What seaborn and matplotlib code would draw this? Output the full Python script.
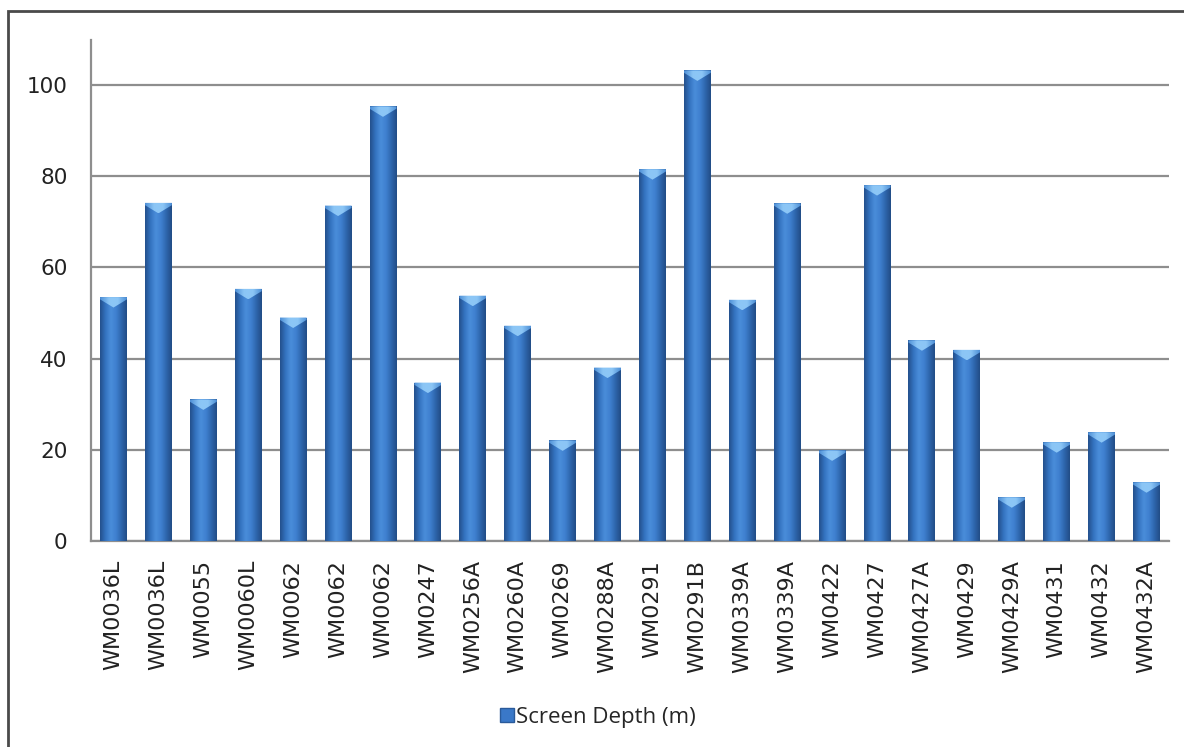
import numpy as np
import pandas as pd
import seaborn as sns
import matplotlib.pyplot as plt
from matplotlib.patches import Polygon, Rectangle
from matplotlib.colors import LinearSegmentedColormap

# Well identifiers (in plotting order) and screen depth in metres
wells = ["WM0036L", "WM0036L", "WM0055", "WM0060L", "WM0062", "WM0062",
         "WM0062", "WM0247", "WM0256A", "WM0260A", "WM0269", "WM0288A",
         "WM0291", "WM0291B", "WM0339A", "WM0339A", "WM0422", "WM0427",
         "WM0427A", "WM0429", "WM0429A", "WM0431", "WM0432", "WM0432A"]
depth = [53.5, 74.2, 31.0, 55.3, 49.0, 73.6,
         95.4, 34.7, 53.8, 47.2, 22.0, 38.0,
         81.6, 103.3, 52.9, 74.1, 19.8, 78.1,
         44.0, 41.9, 9.5, 21.6, 23.8, 12.8]
y_ticks = [0, 20, 40, 60, 80, 100]
series_name = "Screen Depth (m)"

df = pd.DataFrame({"slot": np.arange(len(wells)), "depth": depth})

sns.set_theme(style="white")
plt.rcParams["font.family"] = ["DejaVu Sans"]

fig = plt.figure(figsize=(11.84, 7.47), dpi=100)
ax = fig.add_axes([0.0769, 0.2764, 0.9104, 0.6701])

sns.barplot(data=df, x="slot", y="depth", color="#3A78C8", width=0.6,
            saturation=1, ax=ax, zorder=3, edgecolor="none")

# Cylinder-like shading across each bar plus a lighter cap at the top
shade = LinearSegmentedColormap.from_list(
    "barshade", ["#23508C", "#3473C0", "#4A8DDA", "#3F80CF", "#2E66AC", "#224C86"])
cap_shade = LinearSegmentedColormap.from_list(
    "capshade", ["#4E8FD6", "#8CC6F6", "#8CC6F6", "#4E8FD6"])
grad = np.linspace(0, 1, 64).reshape(1, -1)
for p in list(ax.patches):
    x0, w, h = p.get_x(), p.get_width(), p.get_height()
    im = ax.imshow(grad, cmap=shade, aspect="auto", extent=[x0, x0 + w, 0, h],
                   zorder=4, interpolation="bicubic")
    im.set_clip_path(p)
    xc = x0 + w / 2
    cap = Polygon([(x0, h), (x0 + w, h), (x0 + w, h - 0.5), (xc, h - 2.3), (x0, h - 0.5)],
                  closed=True, facecolor="none", edgecolor="none", zorder=5)
    ax.add_patch(cap)
    cim = ax.imshow(grad, cmap=cap_shade, aspect="auto",
                    extent=[x0, x0 + w, h - 2.3, h], zorder=5, interpolation="bicubic")
    cim.set_clip_path(cap)

ax.set_xlim(-0.5, len(wells) - 0.5)
ax.set_ylim(0, 110)
ax.set_yticks(y_ticks)
ax.set_xticks(np.arange(len(wells)))
ax.set_xticklabels(wells, rotation=90)
ax.set_xlabel("")
ax.set_ylabel("")

ax.yaxis.grid(True, color="#8E8E8E", linewidth=1.6, zorder=0)
ax.xaxis.grid(False)
ax.set_axisbelow(True)
for side in ["top", "right"]:
    ax.spines[side].set_visible(False)
for side in ["left", "bottom"]:
    ax.spines[side].set_color("#8E8E8E")
    ax.spines[side].set_linewidth(1.6)

ax.tick_params(axis="y", length=0, pad=17, labelsize=15.5, labelcolor="#222222")
ax.tick_params(axis="x", length=0, pad=14, labelsize=16, labelcolor="#222222")

# Legend below the category labels
handle = Rectangle((0, 0), 1, 1, facecolor="#3A78C8", edgecolor="#2A5A9A")
fig.legend([handle], [series_name], loc="center", bbox_to_anchor=(0.505, 0.04),
           frameon=False, handlelength=0.6, handleheight=0.6, handletextpad=0.1,
           prop={"family": "Open Sans", "size": 16})

# Outer chart frame
frame = Rectangle((8 / 1184, -0.05), 1.2, 1 - 11 / 747 + 0.05, transform=fig.transFigure,
                  fill=False, edgecolor="#4A4A4A", linewidth=2.0, zorder=10)
fig.patches.append(frame)

fig.savefig("out.png", dpi=100)
